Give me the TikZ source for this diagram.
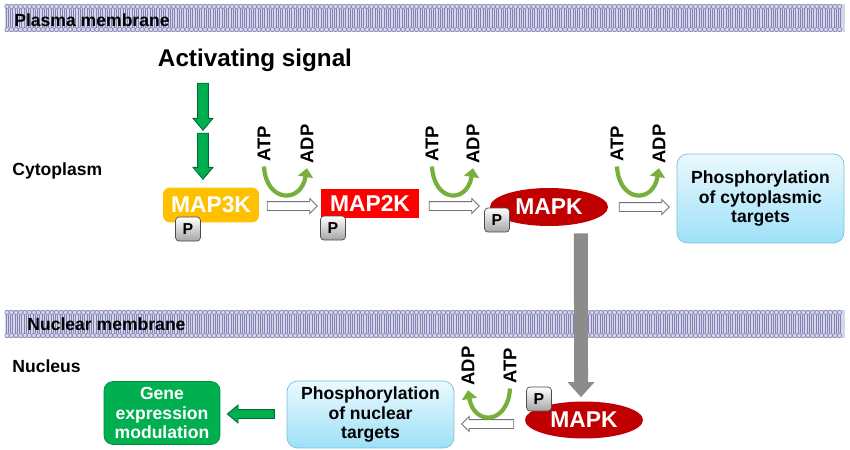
\documentclass[tikz,border=0pt]{standalone}
\usepackage{fontspec}
\setmainfont{Liberation Sans}
\usepackage{tikz}
\usetikzlibrary{arrows.meta,shapes,shapes.geometric,shapes.arrows,positioning}

\definecolor{orangeK}{RGB}{255,192,0}
\definecolor{redK}{RGB}{255,0,0}
\definecolor{darkredK}{RGB}{192,0,0}
\definecolor{geneGreen}{RGB}{0,176,80}
\definecolor{leafGreen}{RGB}{118,176,58}
\definecolor{lipid}{RGB}{130,130,182}
\definecolor{lipidBg}{RGB}{214,214,232}
\definecolor{skyTop}{RGB}{234,249,254}
\definecolor{skyBot}{RGB}{158,224,247}
\definecolor{skyLine}{RGB}{120,192,218}

% lipid bilayer band, #1 = top edge (px)
\newcommand{\lipidlayer}[1]{%
	\fill[lipidBg] (5,#1) rectangle (845,#1+28);
	\foreach \x in {7,11.5,...,843} {
		\draw[lipid, line width=0.3pt] (\x-1,#1+5) -- (\x-1,#1+23);
		\draw[lipid, line width=0.3pt] (\x+1,#1+5) -- (\x+1,#1+23);
		\draw[lipid, line width=0.35pt, fill=lipidBg] (\x,#1+2.5) circle (0.044cm);
		\draw[lipid, line width=0.35pt, fill=lipidBg] (\x,#1+25.5) circle (0.044cm);
	}
}

\begin{document}
\begin{tikzpicture} [
		x=0.02cm, y=-0.02cm,
		region/.style = {font=\bfseries\fontsize{10}{12}\selectfont, anchor=west, inner sep=0pt},
		nucleotide/.style = {font=\bfseries\fontsize{10.5}{12}\selectfont, rotate=90, inner sep=2.5pt},
		kinase/.style = {text=white, font=\bfseries\fontsize{13}{15}\selectfont, inner sep=0pt},
		pbox/.style = {rectangle, rounded corners=2pt, draw=black!70, top color=white,
			bottom color=black!35, minimum width=0.5cm, minimum height=0.48cm,
			inner sep=0pt, font=\bfseries\fontsize{9}{10}\selectfont},
		target/.style = {rectangle, rounded corners=6pt, draw=skyLine, top color=skyTop,
			bottom color=skyBot, align=center, minimum width=3.34cm,
			font=\bfseries\fontsize{10}{11}\selectfont},
		hollow/.style = {single arrow, draw=black!55, fill=white, line width=0.5pt,
			minimum height=1cm, inner sep=0.08cm, single arrow head extend=0.06cm},
		fatarrow/.style = {single arrow, draw=geneGreen!60!black, fill=geneGreen,
			line width=0.5pt, inner sep=0.1cm, single arrow head extend=0.09cm,
			single arrow tip angle=80},
		exchange/.style = {draw=leafGreen, line width=2.4pt, -{Triangle[length=5pt,width=8.5pt]}},
		bigdown/.style = {draw=black!45, line width=0.28cm, -{Triangle[length=0.3cm,width=0.52cm]}},
	]
	\useasboundingbox (0,0) rectangle (850,450);
	% membranes
	\lipidlayer{4}
	\lipidlayer{310}
	% Define nodes
	\begin{scope}
		\node [region] (plasma) at (14,20) {Plasma membrane};
		\node [region] (nuclear) at (27,324) {Nuclear membrane};
		\node [region] (cyto) at (12,171) {Cytoplasm};
		\node [region] (nucleus) at (12,366) {Nucleus};
		\node [font=\bfseries\fontsize{13.8}{15}\selectfont] (signal) at (255,60) {Activating signal};
		\node [fatarrow, rotate=-90, minimum height=0.94cm] (down1) at (203,103.5) {};
		\node [fatarrow, rotate=-90, minimum height=0.92cm] (down2) at (203,153) {};
		% cytoplasm cascade
		\node [kinase, rectangle, rounded corners=4pt, fill=orangeK, minimum width=1.92cm,
			minimum height=0.7cm] (map3k) at (211,205) {MAP3K};
		\node [pbox] (p1) at (188,229) {P};
		\node [hollow] (h1) at (290,206) {};
		\node [nucleotide] (atp1) at (264,144) {ATP};
		\node [nucleotide] (adp1) at (307,144) {ADP};
		\node [kinase, rectangle, fill=redK, minimum width=1.96cm,
			minimum height=0.58cm] (map2k) at (370,203.5) {MAP2K};
		\node [pbox] (p2) at (333,228) {P};
		\node [hollow] (h2) at (452,206) {};
		\node [nucleotide] (atp2) at (432,144) {ATP};
		\node [nucleotide] (adp2) at (473,144) {ADP};
		\node [kinase, ellipse, fill=darkredK, minimum width=2.36cm,
			minimum height=0.76cm] (mapk1) at (549,207) {MAPK};
		\node [pbox] (p3) at (497,220) {P};
		\node [hollow] (h3) at (642,207) {};
		\node [nucleotide] (atp3) at (617,144) {ATP};
		\node [nucleotide] (adp3) at (659,144) {ADP};
		\node [target, minimum height=1.78cm] (cytotarget) at (760.5,198.5)
			{Phosphorylation\\of cytoplasmic\\targets};
		% nucleus
		\node [kinase, ellipse, fill=darkredK, minimum width=2.36cm,
			minimum height=0.74cm] (mapk2) at (584,420) {MAPK};
		\node [pbox] (p4) at (539,399) {P};
		\node [hollow, shape border rotate=180, minimum height=1.04cm] (h4) at (490,424) {};
		\node [nucleotide] (atp4) at (510,366) {ATP};
		\node [nucleotide] (adp4) at (468,366) {ADP};
		\node [target, minimum height=1.14cm] (nuctarget) at (370.5,414.5)
			{Phosphorylation\\of nuclear\\targets};
		\node [fatarrow, shape border rotate=180, minimum height=0.94cm,
			inner sep=0.08cm] (left1) at (253.5,414) {};
		\node [rectangle, rounded corners=5pt, fill=geneGreen, draw=geneGreen!80!black,
			text=white, align=center, minimum width=2.32cm, minimum height=1.08cm,
			font=\bfseries\fontsize{10}{11}\selectfont] (gene) at (162,413)
			{Gene\\expression\\modulation};
	\end{scope}
	% connect ATP/ADP and translocation
	\begin{scope}
		\draw [exchange] (atp1.west) .. controls +(2,36) and +(-6,36) .. (adp1.west);
		\draw [exchange] (atp2.west) .. controls +(2,36) and +(-6,36) .. (adp2.west);
		\draw [exchange] (atp3.west) .. controls +(2,36) and +(-6,36) .. (adp3.west);
		\draw [exchange] (atp4.west) .. controls +(-2,36) and +(6,36) .. (adp4.west);
		\draw [bigdown] ([xshift=0.64cm,yshift=-0.14cm]mapk1.south) -- ([xshift=-0.06cm,yshift=0.08cm]mapk2.north);
	\end{scope}
\end{tikzpicture}
\end{document}
